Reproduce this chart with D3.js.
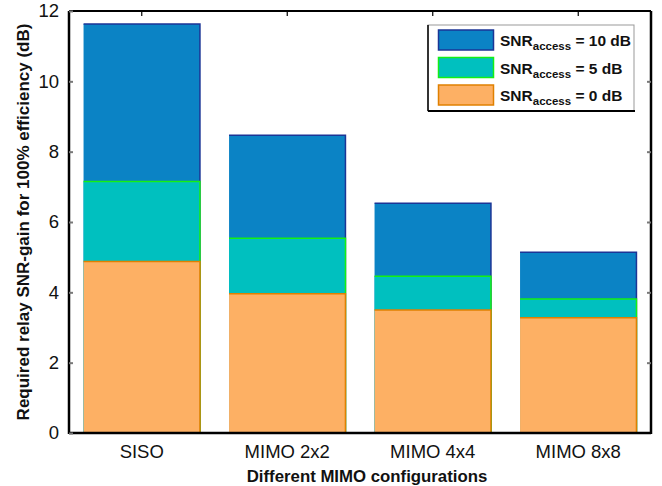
<!DOCTYPE html>
<html>
<head>
<meta charset="utf-8">
<script src="https://cdn.jsdelivr.net/npm/d3@7"></script>
<style>
  html, body { margin: 0; padding: 0; background: #fff; }
  svg { display: block; font-family: "Liberation Sans", Arial, sans-serif; }
</style>
</head>
<body>
<svg id="chart" width="662" height="486"></svg>
<script>
const categories = ["SISO", "MIMO 2x2", "MIMO 4x4", "MIMO 8x8"];
const snr10 = [11.63, 8.47, 6.53, 5.14];
const snr5 = [7.15, 5.54, 4.46, 3.81];
const snr0 = [4.88, 3.96, 3.50, 3.28];
const yTicks = [0, 2, 4, 6, 8, 10, 12];
const seriesLabels = ["= 10 dB", "= 5 dB", "= 0 dB"];
const fills = ["#0b83c5", "#00c0bf", "#fdb064"];
const edges = ["#1b3596", "#14f014", "#e08000"];

const series = [snr10, snr5, snr0];

const svg = d3.select("#chart");
const L = 69, R = 651, T = 11, B = 433;

const x = d3.scaleBand().domain(categories).range([L, R]).paddingInner(0.2).paddingOuter(0.1);
const y = d3.scaleLinear().domain([0, 12]).range([B, T]);

// bars (overlapping, largest behind)
series.forEach((vals, si) => {
  const g = svg.append("g");
  g.selectAll("rect").data(vals).enter().append("rect")
    .attr("x", (d, i) => x(categories[i]))
    .attr("y", d => y(d))
    .attr("width", x.bandwidth())
    .attr("height", d => y(0) - y(d))
    .attr("fill", fills[si]);
  g.selectAll("path").data(vals).enter().append("path")
    .attr("d", (d, i) => {
      const x0 = x(categories[i]), x1 = x0 + x.bandwidth();
      return `M${x0},${y(d)}H${x1}V${y(0)}`;
    })
    .attr("fill", "none")
    .attr("stroke", edges[si])
    .attr("stroke-width", 1.5);
});

// frame
const frame = svg.append("g").attr("stroke", "#000").attr("fill", "none");
frame.append("line").attr("x1", L).attr("x2", L).attr("y1", T).attr("y2", B + 1).attr("stroke-width", 2.5);
frame.append("line").attr("x1", L).attr("x2", R).attr("y1", B).attr("y2", B).attr("stroke-width", 2.5);
frame.append("line").attr("x1", L).attr("x2", R).attr("y1", T).attr("y2", T).attr("stroke-width", 2);
frame.append("line").attr("x1", R).attr("x2", R).attr("y1", T).attr("y2", B + 1).attr("stroke-width", 2.5);

// y axis via d3 axis (labels), ticks inward
const yAxis = d3.axisLeft(y).tickValues(yTicks).tickSize(-4).tickPadding(10).tickFormat(d3.format("d"));
const ya = svg.append("g").attr("transform", `translate(${L},0)`).call(yAxis);
ya.select(".domain").remove();
ya.selectAll(".tick line").attr("stroke", "#777").attr("stroke-width", 2);
ya.selectAll(".tick text").attr("font-size", 18.5).attr("fill", "#111")
  .style("font-family", "'Liberation Sans', Arial, sans-serif");

// right ticks
const yr = d3.axisRight(y).tickValues(yTicks.slice(1, -1)).tickSize(-4).tickFormat("");
const yra = svg.append("g").attr("transform", `translate(${R},0)`).call(yr);
yra.select(".domain").remove();
yra.selectAll(".tick line").attr("stroke", "#777").attr("stroke-width", 2);

// x axis labels
const xAxis = d3.axisBottom(x).tickSize(0).tickPadding(12);
const xa = svg.append("g").attr("transform", `translate(0,${B})`).call(xAxis);
xa.select(".domain").remove();
xa.selectAll(".tick text").attr("font-size", 18.5).attr("fill", "#111")
  .style("font-family", "'Liberation Sans', Arial, sans-serif");

// top ticks
const xt = d3.axisTop(x).tickSize(-5).tickFormat("");
const xta = svg.append("g").attr("transform", `translate(0,${T})`).call(xt);
xta.select(".domain").remove();
xta.selectAll(".tick line").attr("stroke", "#000").attr("stroke-width", 1.2);

// axis titles
svg.append("text").attr("x", 367).attr("y", 482).attr("text-anchor", "middle")
  .attr("font-size", 16.8).attr("font-weight", "bold").attr("fill", "#111")
  .text("Different MIMO configurations");
svg.append("text").attr("transform", `translate(29,${(T + B) / 2}) rotate(-90)`)
  .attr("text-anchor", "middle").attr("font-size", 17).attr("font-weight", "bold").attr("fill", "#111")
  .text("Required relay SNR-gain for 100% efficiency (dB)");

// legend
const lg = svg.append("g");
lg.append("rect").attr("x", 428).attr("y", 25).attr("width", 206).attr("height", 86)
  .attr("fill", "#fff").attr("stroke", "#999").attr("stroke-width", 1);
lg.append("line").attr("x1", 428).attr("x2", 635).attr("y1", 111).attr("y2", 111).attr("stroke", "#000").attr("stroke-width", 2);
lg.append("line").attr("x1", 428).attr("x2", 428).attr("y1", 25).attr("y2", 111).attr("stroke", "#000").attr("stroke-width", 1.5);
seriesLabels.forEach((lab, i) => {
  const yy = 30 + i * 27.5;
  lg.append("rect").attr("x", 438.5).attr("y", yy).attr("width", 55).attr("height", 20)
    .attr("fill", fills[i]).attr("stroke", edges[i]).attr("stroke-width", 1.5);
  const t = lg.append("text").attr("x", 500).attr("y", yy + 16).attr("font-weight", "bold")
    .attr("font-size", 15.5).attr("fill", "#111");
  t.append("tspan").text("SNR");
  t.append("tspan").attr("font-size", 11.5).attr("dy", 4).text("access");
  t.append("tspan").attr("dy", -4).text(" " + lab);
});
</script>
</body>
</html>
